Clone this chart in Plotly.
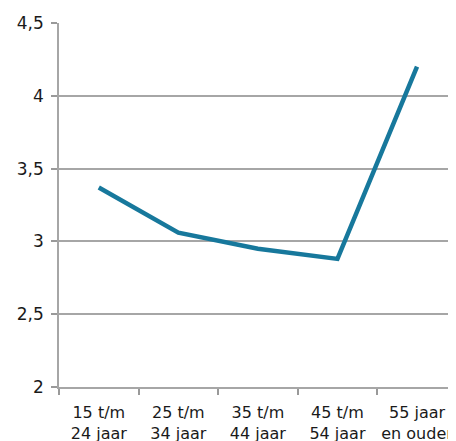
import plotly.graph_objects as go

categories = ["15 t/m<br>24 jaar", "25 t/m<br>34 jaar", "35 t/m<br>44 jaar", "45 t/m<br>54 jaar", "55 jaar<br>en ouder"]
values = [3.37, 3.06, 2.95, 2.88, 4.20]
y_ticks = [2, 2.5, 3, 3.5, 4, 4.5]
y_tick_labels = ["2", "2,5", "3", "3,5", "4", "4,5"]

fig = go.Figure()
fig.add_trace(go.Scatter(
    x=categories, y=values, mode="lines",
    line=dict(color="#17789c", width=4.5),
    showlegend=False, hoverinfo="skip",
))

# page body has an 8px default margin, so the figure is offset by 8px
fig.update_layout(
    width=448, height=433,
    margin=dict(l=51, r=0, t=15, b=54),
    plot_bgcolor="white", paper_bgcolor="white",
    font=dict(family="DejaVu Sans", size=15, color="#1a1a1a"),
)
fig.update_xaxes(
    type="category", range=[-0.5, 4.49], automargin=False,
    tickson="boundaries", ticks="outside", ticklen=6, tickcolor="#999999", tickwidth=1.5,
    showgrid=False, showline=True, linecolor="#a6a6a6", linewidth=1.5, zeroline=False,
    tickfont=dict(size=16), ticklabelstandoff=10,
)
fig.update_yaxes(
    range=[2, 4.5], tickvals=y_ticks, ticktext=y_tick_labels, automargin=False,
    ticks="outside", ticklen=6, tickcolor="#999999", tickwidth=1.5,
    showgrid=True, gridcolor="#a6a6a6", gridwidth=1.5,
    showline=True, linecolor="#a6a6a6", linewidth=1.5,
    zeroline=False, tickfont=dict(size=17), ticklabelstandoff=4,
)
fig.write_html("out.html")
